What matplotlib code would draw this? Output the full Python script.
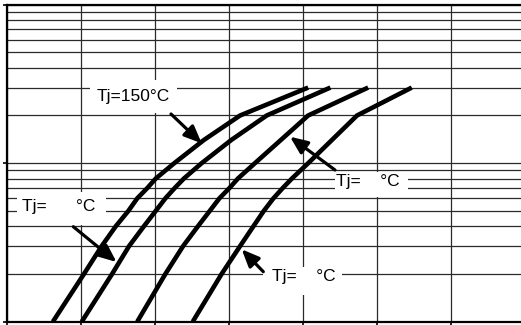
import numpy as np
import matplotlib
matplotlib.use('Agg')
import matplotlib.pyplot as plt
from matplotlib.ticker import MultipleLocator, LogLocator, NullFormatter
from matplotlib.patches import Rectangle

plt.rcParams['font.family'] = ['Liberation Sans', 'DejaVu Sans']

# Curvas (x em divisões da grade, y em escala log)
curve_y = [0.1, 0.2, 0.3, 0.4, 0.5, 0.6, 0.7, 0.8, 1.0, 1.4, 2.0, 3.0]

c1_x = [0.62, 1.04, 1.28, 1.47, 1.64, 1.76, 1.90, 2.01, 2.26, 2.66, 3.15, 4.07]
c2_x = [1.01, 1.42, 1.65, 1.85, 2.01, 2.14, 2.27, 2.39, 2.63, 3.03, 3.51, 4.37]
c3_x = [1.76, 2.14, 2.38, 2.58, 2.74, 2.87, 3.01, 3.12, 3.35, 3.70, 4.07, 4.88]
c4_x = [2.51, 2.90, 3.15, 3.33, 3.47, 3.60, 3.73, 3.85, 4.07, 4.39, 4.73, 5.47]

labels = ['Tj=150°C', 'Tj=      °C', 'Tj=    °C', 'Tj=    °C']

W, H = 521, 325

def fpx(x, y):
    # pixel da imagem (origem no topo) -> fração da figura
    return (x / W, 1 - y / H)

fig = plt.figure(figsize=(W / 100, H / 100), dpi=100)
ax = fig.add_axes([7 / W, (H - 321.7) / H, (W - 7) / W, (321.7 - 4.7) / H])

ax.set_yscale('log')
for cx in [c1_x, c2_x, c3_x, c4_x]:
    ax.plot(cx, curve_y, color='black', lw=3.3, solid_capstyle='butt',
            solid_joinstyle='round', zorder=3)

ax.xaxis.set_major_locator(MultipleLocator(1))
ax.yaxis.set_major_locator(LogLocator(base=10))
ax.yaxis.set_minor_locator(LogLocator(base=10, subs=np.arange(2, 10)))
ax.grid(which='major', axis='x', color='#2a2a2a', lw=0.9)
ax.grid(which='both', axis='y', color='#2a2a2a', lw=0.9)
ax.set_axisbelow(True)

ax.xaxis.set_major_formatter(NullFormatter())
ax.yaxis.set_major_formatter(NullFormatter())
ax.yaxis.set_minor_formatter(NullFormatter())
ax.tick_params(which='major', direction='out', length=3, width=1.2, color='black')
ax.tick_params(which='minor', length=0)

for s in ['left', 'top', 'bottom']:
    ax.spines[s].set_linewidth(1.6)
ax.spines['right'].set_visible(False)

# caixas brancas atrás dos textos
boxes = [(90, 80, 177, 113), (17, 192, 106, 225),
         (335, 171.7, 408.3, 197), (263.3, 266.7, 341.7, 295)]
for x0, y0, x1, y1 in boxes:
    ax.add_patch(Rectangle(fpx(x0, y1), (x1 - x0) / W, (y1 - y0) / H,
                           transform=fig.transFigure, facecolor='white',
                           edgecolor='none', zorder=2.5))

text_pos = [(97, 97), (21.7, 206.7), (336, 181.7), (271.7, 276.7)]
for lab, (tx, ty) in zip(labels, text_pos):
    ax.text(*fpx(tx, ty), lab, transform=fig.transFigure, fontsize=12.5,
            ha='left', va='center', zorder=4)

arrows = [((171, 114), (201.7, 143.3)), ((73.3, 226.7), (116.5, 262)),
          ((335, 170), (290, 136.7)), ((263.3, 271.7), (241.7, 249.3))]
for tail, tip in arrows:
    ax.annotate('', xy=fpx(*tip), xytext=fpx(*tail), xycoords='figure fraction',
                textcoords='figure fraction',
                arrowprops=dict(arrowstyle='-|>,head_length=0.7,head_width=0.3',
                                lw=2.3, color='black', mutation_scale=15,
                                shrinkA=0, shrinkB=0), zorder=4)

ax.set_xlim(0, (W - 7) / 74)
ax.set_ylim(0.1, 10)

fig.savefig('out.png', dpi=100)
